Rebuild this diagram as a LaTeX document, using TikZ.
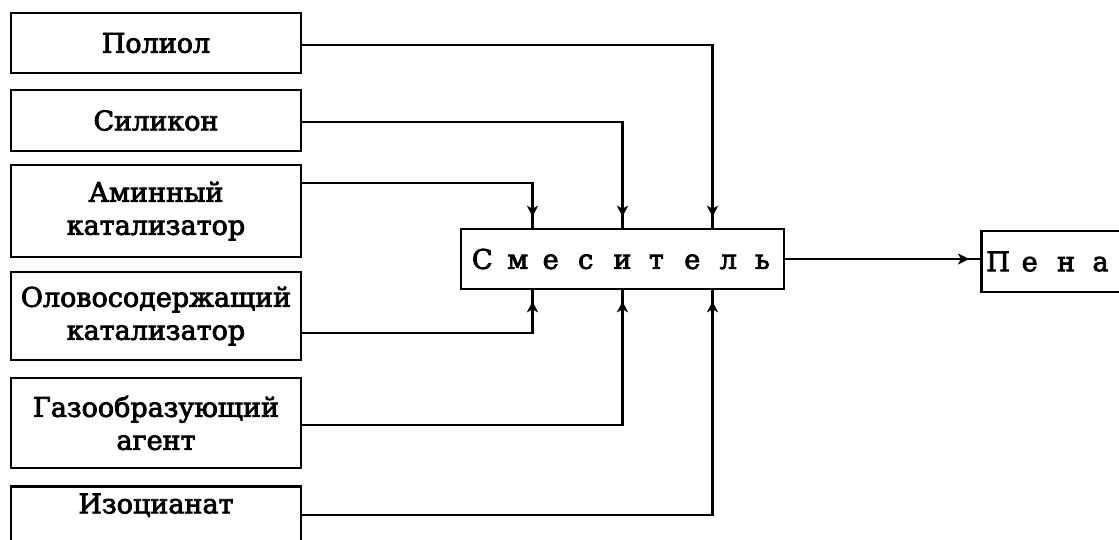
\documentclass[tikz,border=0pt]{standalone}
\usepackage{fontspec}
\newfontfamily\typefont{DejaVu Serif}[FakeBold=3]
\usetikzlibrary{arrows.meta,decorations.markings,calc}

% evenly spaced letters of a label
\newcommand{\spacedch}[1]{\makebox[35.4pt][l]{#1}}

\begin{document}
\begin{tikzpicture}[x=1pt,y=-1pt,
  box/.style={draw,line width=2.6pt,inner sep=4pt,align=center,
    font=\typefont\fontsize{27}{33}\selectfont},
  inbox/.style={box,minimum width=290pt},
  feed/.style={line width=2.2pt,
    decoration={markings,mark=at position -11pt with {\arrow{Stealth[length=11pt,width=11pt,inset=3pt]}}},
    postaction={decorate}},
]
\useasboundingbox (0,0) rectangle (1119,539);
\clip (0,0) rectangle (1119,539);

% components
\node[inbox,minimum height=60pt] (pol)  at (156,43)    {Полиол};
\node[inbox,minimum height=61pt] (sil)  at (156,120.5) {Силикон};
\node[inbox,minimum height=92pt] (amin) at (156,211)   {Аминный\\катализатор};
\node[inbox,minimum height=88pt] (olov) at (156,316)   {Оловосодержащий\\катализатор};
\node[inbox,minimum height=90pt] (gaz)  at (156,423)   {Газообразующий\\агент};
\node[inbox,anchor=north,text height=20pt,text depth=70pt,inner ysep=7pt]
      (izo) at (156,485) {Изоцианат};

% mixer and product
\node[box,minimum width=323pt,minimum height=60pt,align=left] (mix) at (622.5,259)
      {\spacedch{С}\spacedch{м}\spacedch{е}\spacedch{с}\spacedch{и}\spacedch{т}\spacedch{е}\spacedch{л}\makebox[18pt][l]{ь}};
\node[box,anchor=west,minimum height=61pt,text width=210pt,align=left,inner xsep=5pt]
      (pena) at (980,261.5) {\spacedch{П}\spacedch{е}\spacedch{н}\spacedch{а}};

% feeds from above
\draw[feed] ([yshift=-2pt]pol.east)   -| ([xshift=90pt]mix.north);
\draw[feed] ([yshift=-1.5pt]sil.east) -| (mix.north);
\draw[feed] ([yshift=28pt]amin.east)  -| ([xshift=-90pt]mix.north);
% feeds from below
\draw[feed] ([yshift=-17pt]olov.east) -| ([xshift=-90pt]mix.south);
\draw[feed] ([yshift=-2pt]gaz.east)   -| (mix.south);
\draw[feed] ([yshift=-30pt]izo.north east) -| ([xshift=90pt]mix.south);
% output
\draw[feed] (mix.east) -- (mix.east -| pena.west);
\end{tikzpicture}
\end{document}
